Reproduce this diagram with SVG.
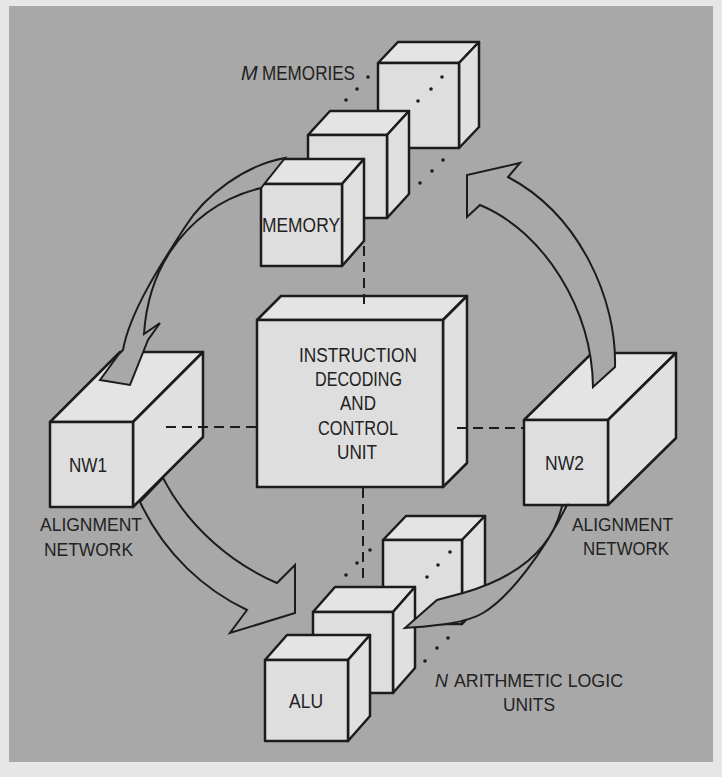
<svg xmlns="http://www.w3.org/2000/svg" width="722" height="777" viewBox="0 0 722 777">
<style>
.face{fill:#dedede;stroke:#1c1c1c;stroke-width:2.5;stroke-linejoin:round}
.top{fill:#e4e4e4;stroke:#1c1c1c;stroke-width:2.5;stroke-linejoin:round}
.side{fill:#e0e0e0;stroke:#1c1c1c;stroke-width:2.5;stroke-linejoin:round}
.arrow{fill:#a8a8a8;stroke:#1c1c1c;stroke-width:2;stroke-linejoin:miter}
.dash{fill:none;stroke:#1c1c1c;stroke-width:2;stroke-dasharray:10 6}
.dot{fill:#1c1c1c}
text{font-family:"Liberation Sans",Arial,sans-serif;fill:#222;lengthAdjust:spacingAndGlyphs}
.lbl{font-size:18px}
.box{font-size:20px}
</style>
<rect x="0" y="0" width="722" height="777" fill="#e6e6e6"/>
<rect x="9" y="6" width="704" height="756" fill="#a8a8a8"/>

<!-- Memories -->
<g id="memory3">
<polygon class="top" points="378,63 398,42 479,42 459,63"/>
<polygon class="side" points="459,63 479,42 479,127 459,148"/>
<rect class="face" x="378" y="63" width="81" height="85"/>
</g>
<g id="memory2">
<polygon class="top" points="308,135 330,111 409,111 387,135"/>
<polygon class="side" points="387,135 409,111 409,194 387,218"/>
<rect class="face" x="308" y="135" width="79" height="83"/>
</g>
<g id="memory1">
<polygon class="top" points="261,184 283,159 364,159 342,184"/>
<polygon class="side" points="342,184 364,159 364,241 342,266"/>
<rect class="face" x="261" y="184" width="81" height="82"/>
<text class="box" x="262" y="232" font-size="21" textLength="78" lengthAdjust="spacingAndGlyphs">MEMORY</text>
</g>
<g id="memories-label">
<text class="box" x="241" y="80" font-style="italic" font-size="20">M</text>
<text class="box" x="262" y="80" font-size="20" textLength="93" lengthAdjust="spacingAndGlyphs">MEMORIES</text>
<circle class="dot" cx="368" cy="77" r="1.8"/><circle class="dot" cx="357" cy="89" r="1.8"/><circle class="dot" cx="346" cy="100" r="1.8"/>
<circle class="dot" cx="442" cy="77" r="1.8"/><circle class="dot" cx="431" cy="89" r="1.8"/><circle class="dot" cx="418" cy="101" r="1.8"/>
<circle class="dot" cx="443" cy="160" r="1.8"/><circle class="dot" cx="432" cy="171" r="1.8"/><circle class="dot" cx="420" cy="183" r="1.8"/>
</g>

<!-- Instruction decoding and control unit -->
<g id="icu">
<polygon class="top" points="257,320 281,296 467,296 443,320"/>
<polygon class="side" points="443,320 467,296 467,463 443,487"/>
<rect class="face" x="257" y="320" width="186" height="167"/>
<text class="box" x="299" y="362" textLength="118" lengthAdjust="spacingAndGlyphs">INSTRUCTION</text>
<text class="box" x="315" y="386" textLength="87" lengthAdjust="spacingAndGlyphs">DECODING</text>
<text class="box" x="340" y="410" textLength="36" lengthAdjust="spacingAndGlyphs">AND</text>
<text class="box" x="318" y="435" textLength="80" lengthAdjust="spacingAndGlyphs">CONTROL</text>
<text class="box" x="337" y="459" textLength="40" lengthAdjust="spacingAndGlyphs">UNIT</text>
</g>

<!-- NW1 -->
<g id="nw1">
<polygon class="top" points="50,422 120,352 203,352 133,422"/>
<polygon class="side" points="133,422 203,352 203,437 133,507"/>
<rect class="face" x="50" y="422" width="83" height="85"/>
<text class="box" x="69" y="472" font-size="19" textLength="38" lengthAdjust="spacingAndGlyphs">NW1</text>
<text class="lbl" x="40" y="531" textLength="102" lengthAdjust="spacingAndGlyphs">ALIGNMENT</text>
<text class="lbl" x="44" y="556" textLength="89" lengthAdjust="spacingAndGlyphs">NETWORK</text>
</g>

<!-- NW2 -->
<g id="nw2">
<polygon class="top" points="524,420 592,353 676,353 608,420"/>
<polygon class="side" points="608,420 676,353 676,438 608,505"/>
<rect class="face" x="524" y="420" width="84" height="85"/>
<text class="box" x="545" y="470" font-size="19" textLength="39" lengthAdjust="spacingAndGlyphs">NW2</text>
<text class="lbl" x="572" y="531" textLength="101" lengthAdjust="spacingAndGlyphs">ALIGNMENT</text>
<text class="lbl" x="583" y="555" textLength="86" lengthAdjust="spacingAndGlyphs">NETWORK</text>
</g>

<!-- ALUs -->
<g id="alu3">
<polygon class="top" points="383,540 406,516 485,516 462,540"/>
<polygon class="side" points="462,540 485,516 485,600 462,624"/>
<rect class="face" x="383" y="540" width="79" height="84"/>
</g>
<g id="alu2">
<polygon class="top" points="313,612 335,587 415,587 393,612"/>
<polygon class="side" points="393,612 415,587 415,668 393,693"/>
<rect class="face" x="313" y="612" width="80" height="81"/>
</g>
<g id="alu1">
<polygon class="top" points="265,660 287,635 370,635 348,660"/>
<polygon class="side" points="348,660 370,635 370,716 348,741"/>
<rect class="face" x="265" y="660" width="83" height="81"/>
<text class="box" x="289" y="708" font-size="19" textLength="34" lengthAdjust="spacingAndGlyphs">ALU</text>
</g>
<g id="alus-label">
<text class="lbl" x="435" y="687" font-style="italic">N</text>
<text class="lbl" x="454" y="687" textLength="169" lengthAdjust="spacingAndGlyphs">ARITHMETIC LOGIC</text>
<text class="lbl" x="503" y="711" textLength="52" lengthAdjust="spacingAndGlyphs">UNITS</text>
<circle class="dot" cx="370" cy="550" r="1.8"/><circle class="dot" cx="357" cy="563" r="1.8"/><circle class="dot" cx="346" cy="575" r="1.8"/>
<circle class="dot" cx="450" cy="552" r="1.8"/><circle class="dot" cx="438" cy="565" r="1.8"/><circle class="dot" cx="427" cy="577" r="1.8"/>
<circle class="dot" cx="448" cy="638" r="1.8"/><circle class="dot" cx="437" cy="648" r="1.8"/><circle class="dot" cx="425" cy="661" r="1.8"/>
</g>

<!-- Connectors -->
<g id="connectors">
<line class="dash" x1="364" y1="246" x2="364" y2="304"/>
<line class="dash" x1="363" y1="488" x2="363" y2="582"/>
<line class="dash" x1="166" y1="427" x2="257" y2="427"/>
<line class="dash" x1="457" y1="428" x2="524" y2="428"/>
<path class="arrow" d="M285,158 C245,165 205,195 185,227 C165,258 130,310 123,350 L119,354 L100,380 L130,385 L148,340 L160,323 L144,334 C146,303 155,275 170,252 C190,222 220,198 261,188 Z"/>
<path class="arrow" d="M140,502 C165,555 205,590 247,610 L230,633 L295,613 L295,565 L277,583 C235,565 190,530 163,478 Z"/>
<path class="arrow" d="M593,387 C592,310 545,232 480,205 L467,217 L467,175 L520,163 L508,177 C580,215 617,300 615,367 Z"/>
<path class="arrow" d="M562,506 C552,550 515,578 463,593 L437,600 L405,628 C430,626 465,624 483,613 C510,597 545,550 567,505 Z"/>
</g>
</svg>
